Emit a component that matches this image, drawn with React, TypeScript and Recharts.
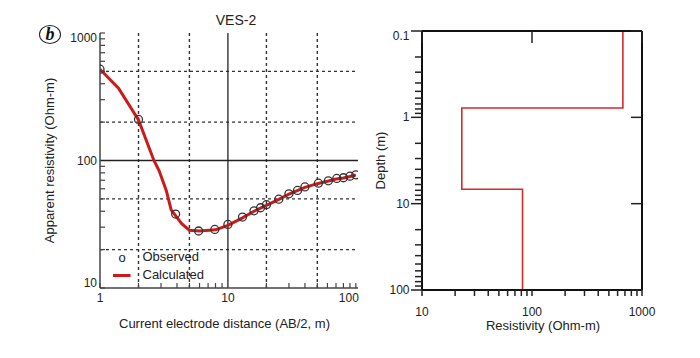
import React from 'react';
import {
  ComposedChart,
  Line,
  Scatter,
  XAxis,
  YAxis,
  ReferenceLine,
  Legend,
} from 'recharts';

// ---------- Left panel: VES-2 sounding curve ----------
const obsX = [1, 2, 3.9, 5.9, 7.9, 10, 13, 16, 18, 20, 25, 30, 35, 40, 51, 61, 71, 80, 90, 100];
const obsY = [520, 210, 38, 28, 28.8, 31.5, 36, 40.3, 42.6, 45, 49.7, 54.8, 58.2, 62, 66.4, 69.3, 72.3, 73.2, 75.3, 77.2];

const calcX = [1, 1.4, 2, 2.64, 2.9, 3.3, 3.6, 4.35, 5, 6, 8, 10, 13, 16, 20, 25, 30, 40, 50, 60, 70, 80, 90, 100];
const calcY = [520, 368, 208, 100, 83, 58, 41, 32, 28.4, 28, 28.6, 31, 35.5, 40, 44.5, 49.5, 54.5, 61.5, 65.8, 68.8, 71.5, 73, 75, 77];

const seriesNames = ['Observed', 'Calculated'];

const leftXTicks = [1, 2, 3, 4, 5, 6, 7, 8, 9, 10, 20, 30, 40, 50, 60, 70, 80, 90, 100];
const leftXLabels = [1, 10, 100];
const leftYTicks = [10, 20, 30, 40, 50, 60, 70, 80, 90, 100, 200, 300, 400, 500, 600, 700, 800, 900, 1000];
const leftYLabels = [10, 100, 1000];
const dottedX = [2, 5, 20, 50];
const dottedY = [20, 50, 200, 500];
const solidX = [10];
const solidY = [100];

// ---------- Right panel: layered model ----------
const layerRes = [670, 23, 82];
const layerTop = [0.1, 0.78, 6.8];
const modelBottom = 100;

const rightXTicks = [10, 20, 30, 40, 50, 60, 70, 80, 90, 100, 200, 300, 400, 500, 600, 700, 800, 900, 1000];
const rightXLabels = [10, 100, 1000];
const rightYTicks = [0.1, 0.2, 0.3, 0.4, 0.5, 0.6, 0.7, 0.8, 0.9, 1, 2, 3, 4, 5, 6, 7, 8, 9, 10, 20, 30, 40, 50, 60, 70, 80, 90, 100];
const rightYLabels = [0.1, 1, 10, 100];
const rightMajor = [0.1, 1, 10, 100];
const topMajor = [10, 100, 1000];

const obsData = obsX.map((x, i) => ({ x, y: obsY[i] }));
const calcData = calcX.map((x, i) => ({ x, y: calcY[i] }));
const modelData: { res: number; depth: number }[] = [];
layerRes.forEach((r, i) => {
  const top = layerTop[i];
  const bottom = i + 1 < layerTop.length ? layerTop[i + 1] : modelBottom;
  modelData.push({ res: r, depth: top });
  modelData.push({ res: r, depth: bottom });
});

const FONT = '"Liberation Sans", Arial, sans-serif';
const TXT = '#222';
const AX = '#444';
const RED = '#cc1a1a';

// ---------- tick renderers ----------
const LeftYTick = (props: any) => {
  const { x, y, payload } = props;
  const v = payload.value;
  const show = leftYLabels.includes(v);
  const dy = v === leftYTicks[leftYTicks.length - 1] ? 5 : v === leftYTicks[0] ? -5 : 0;
  return (
    <g>
      {!solidY.includes(v) && <line x1={x} x2={x + 5} y1={y} y2={y} stroke={AX} strokeWidth={1.2} />}
      {show && (
        <text x={x - 3} y={y + dy} textAnchor="end" dominantBaseline="central" fontSize={12} fill={TXT} fontFamily={FONT}>
          {v}
        </text>
      )}
    </g>
  );
};

const LeftXTick = (props: any) => {
  const { x, y, payload } = props;
  const v = payload.value;
  const show = leftXLabels.includes(v);
  const last = v === leftXLabels[leftXLabels.length - 1];
  return (
    <g>
      {!solidX.includes(v) && <line x1={x} x2={x} y1={y} y2={y - 5} stroke={AX} strokeWidth={1.2} />}
      {show && (
        <text x={last ? x + 3 : x} y={y + 10} textAnchor={last ? 'end' : 'middle'} dominantBaseline="central" fontSize={12} fill={TXT} fontFamily={FONT}>
          {v}
        </text>
      )}
    </g>
  );
};

const RightYTick = (props: any) => {
  const { x, y, payload } = props;
  const v = payload.value;
  const major = rightMajor.includes(v);
  const show = rightYLabels.includes(v);
  const dy = v === rightYTicks[0] ? 5 : 0;
  return (
    <g>
      <line x1={x - (major ? 11 : 7)} x2={x} y1={y} y2={y} stroke="#222" strokeWidth={1.5} />
      {show && (
        <text x={x - 12.5} y={y + dy} textAnchor="end" dominantBaseline="central" fontSize={12} fill={TXT} fontFamily={FONT}>
          {v}
        </text>
      )}
    </g>
  );
};

const RightXTick = (props: any) => {
  const { x, y, payload } = props;
  const v = payload.value;
  const show = rightXLabels.includes(v);
  return (
    <g>
      <line x1={x} x2={x} y1={y} y2={y + 6} stroke="#222" strokeWidth={1.5} />
      {show && (
        <text x={x} y={y + 22} textAnchor="middle" dominantBaseline="central" fontSize={12} fill={TXT} fontFamily={FONT}>
          {v}
        </text>
      )}
    </g>
  );
};

const TopInTick = (props: any) => {
  const { x, y } = props;
  return <line x1={x} x2={x} y1={y} y2={y + 12} stroke="#222" strokeWidth={1.5} />;
};

const RightInTick = (props: any) => {
  const { x, y } = props;
  return <line x1={x} x2={x - 11} y1={y} y2={y} stroke="#222" strokeWidth={1.5} />;
};

const renderLegend = (props: any) => {
  const items: any[] = props.payload || [];
  const colorOf = (name: string) => {
    const it = items.find((p) => p.value === name);
    return it ? it.color : RED;
  };
  return (
    <svg width={120} height={42} style={{ display: 'block', fontFamily: FONT }}>
      <text x={14} y={11.5} textAnchor="middle" dominantBaseline="central" fontSize={13} fill={TXT}>
        o
      </text>
      <text x={34.5} y={10.5} dominantBaseline="central" fontSize={13} fill={TXT}>
        {seriesNames[0]}
      </text>
      <line x1={5} x2={22.5} y1={29.5} y2={29.5} stroke={colorOf(seriesNames[1])} strokeWidth={3} />
      <text x={34.5} y={28.5} dominantBaseline="central" fontSize={13} fill={TXT}>
        {seriesNames[1]}
      </text>
    </svg>
  );
};

const ObsDot = (props: any) => {
  const { cx, cy } = props;
  if (cx == null || cy == null) return null;
  return <circle cx={cx} cy={cy} r={4} fill="none" stroke="#333" strokeWidth={1.3} />;
};

export default function App() {
  return (
    <div style={{ position: 'absolute', left: 0, top: 0, width: 700, height: 358, background: '#fff', fontFamily: FONT }}>
      {/* panel letter */}
      <div
        style={{
          position: 'absolute',
          left: 39,
          top: 25,
          width: 20,
          height: 17,
          border: '1.3px solid #222',
          borderRadius: '50%',
          textAlign: 'center',
          lineHeight: '17px',
          fontFamily: '"Liberation Serif", "Times New Roman", serif',
          fontStyle: 'italic',
          fontWeight: 'bold',
          fontSize: 18,
          color: '#111',
        }}
      >
        b
      </div>
      {/* title */}
      <div
        style={{
          position: 'absolute',
          left: 186,
          top: 11,
          width: 100,
          textAlign: 'center',
          fontSize: 14,
          lineHeight: '18px',
          color: TXT,
        }}
      >
        VES-2
      </div>

      <div style={{ position: 'absolute', left: 0, top: 0 }}>
        <ComposedChart width={370} height={358} margin={{ top: 33, right: 12, bottom: 40, left: 40 }}>
          <XAxis
            dataKey="x"
            type="number"
            scale="log"
            domain={[1, 104]}
            allowDataOverflow
            ticks={leftXTicks}
            interval={0}
            tickSize={0}
            tickMargin={0}
            tickLine={false}
            tick={LeftXTick}
            height={30}
            axisLine={{ stroke: AX, strokeWidth: 1.5 }}
            label={{
              value: 'Current electrode distance (AB/2, m)',
              position: 'bottom',
              offset: 0.5,
              dx: -4.5,
              fontSize: 13,
              fill: TXT,
              fontFamily: FONT,
            }}
          />
          <XAxis
            xAxisId="top"
            orientation="top"
            type="number"
            scale="log"
            domain={[1, 104]}
            allowDataOverflow
            height={0}
            tick={false}
            tickLine={false}
            axisLine={{ stroke: AX, strokeWidth: 1.5 }}
          />
          <YAxis
            type="number"
            scale="log"
            domain={[10, 1000]}
            allowDataOverflow
            ticks={leftYTicks}
            interval={0}
            tickSize={0}
            tickMargin={0}
            tickLine={false}
            tick={LeftYTick}
            width={60}
            axisLine={{ stroke: AX, strokeWidth: 1.5 }}
            label={{
              value: 'Apparent resistivity (Ohm-m)',
              angle: -90,
              position: 'insideLeft',
              offset: 9,
              style: { textAnchor: 'middle' },
              fontSize: 13,
              fill: TXT,
              fontFamily: FONT,
            }}
          />
          <YAxis
            yAxisId="right"
            orientation="right"
            type="number"
            scale="log"
            domain={[10, 1000]}
            allowDataOverflow
            width={0}
            tick={false}
            tickLine={false}
            axisLine={{ stroke: AX, strokeWidth: 1.5 }}
          />
          {dottedX.map((v) => (
            <ReferenceLine key={'dx' + v} x={v} stroke="#333" strokeWidth={1.4} strokeDasharray="3 3" />
          ))}
          {dottedY.map((v) => (
            <ReferenceLine key={'dy' + v} y={v} stroke="#333" strokeWidth={1.4} strokeDasharray="3 3" />
          ))}
          {solidX.map((v) => (
            <ReferenceLine key={'sx' + v} x={v} stroke="#222" strokeWidth={1.3} />
          ))}
          {solidY.map((v) => (
            <ReferenceLine key={'sy' + v} y={v} stroke="#222" strokeWidth={1.3} />
          ))}
          <Line
            data={calcData}
            dataKey="y"
            name={seriesNames[1]}
            type="linear"
            stroke={RED}
            strokeWidth={3}
            dot={false}
            activeDot={false}
            legendType="line"
            isAnimationActive={false}
          />
          <Scatter
            data={obsData}
            dataKey="y"
            name={seriesNames[0]}
            shape={ObsDot}
            fill="#333"
            legendType="circle"
            isAnimationActive={false}
          />
          <Legend
            layout="vertical"
            align="center"
            verticalAlign="middle"
            wrapperStyle={{ left: 108, top: 246, width: 120 }}
            content={renderLegend}
          />
        </ComposedChart>
      </div>

      <div style={{ position: 'absolute', left: 370, top: 0 }}>
        <ComposedChart width={330} height={358} margin={{ top: 30, right: 57, bottom: 38, left: 0 }}>
          <XAxis
            dataKey="res"
            type="number"
            scale="log"
            domain={[10, 1000]}
            allowDataOverflow
            ticks={rightXTicks}
            interval={0}
            tickSize={0}
            tickMargin={0}
            tickLine={false}
            tick={RightXTick}
            height={30}
            axisLine={{ stroke: '#111', strokeWidth: 2 }}
            label={{
              value: 'Resistivity (Ohm-m)',
              position: 'bottom',
              offset: 0.5,
              dx: 11,
              fontSize: 13,
              fill: TXT,
              fontFamily: FONT,
            }}
          />
          <XAxis
            xAxisId="top"
            orientation="top"
            dataKey="res"
            type="number"
            scale="log"
            domain={[10, 1000]}
            allowDataOverflow
            ticks={topMajor}
            interval={0}
            tickSize={0}
            tickMargin={0}
            tickLine={false}
            tick={TopInTick}
            height={1}
            axisLine={{ stroke: '#111', strokeWidth: 2 }}
          />
          <YAxis
            type="number"
            scale="log"
            domain={[0.1, 100]}
            reversed
            allowDataOverflow
            ticks={rightYTicks}
            interval={0}
            tickSize={0}
            tickMargin={0}
            tickLine={false}
            tick={RightYTick}
            width={52}
            axisLine={{ stroke: '#111', strokeWidth: 2 }}
            label={{
              value: 'Depth (m)',
              angle: -90,
              position: 'insideLeft',
              offset: 10,
              style: { textAnchor: 'middle' },
              fontSize: 13,
              fill: TXT,
              fontFamily: FONT,
            }}
          />
          <YAxis
            yAxisId="right"
            orientation="right"
            type="number"
            scale="log"
            domain={[0.1, 100]}
            reversed
            allowDataOverflow
            ticks={rightMajor}
            interval={0}
            tickSize={0}
            tickMargin={0}
            tickLine={false}
            tick={RightInTick}
            width={1}
            axisLine={{ stroke: '#111', strokeWidth: 2 }}
          />
          {/* invisible twin of the model so the top/right frame axes get a domain */}
          <Line
            data={modelData}
            xAxisId="top"
            yAxisId="right"
            dataKey="depth"
            type="linear"
            stroke="none"
            dot={false}
            activeDot={false}
            legendType="none"
            isAnimationActive={false}
          />
          <Line
            data={modelData}
            dataKey="depth"
            type="linear"
            stroke="#d42a2a"
            strokeWidth={1.6}
            dot={false}
            activeDot={false}
            isAnimationActive={false}
          />
        </ComposedChart>
      </div>
    </div>
  );
}
